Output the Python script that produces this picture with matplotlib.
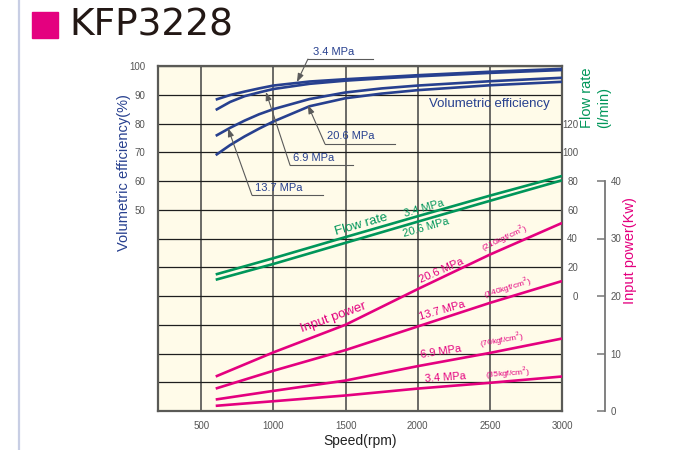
import matplotlib
matplotlib.use("Agg")
import matplotlib.pyplot as plt
from matplotlib import font_manager as fm
from matplotlib.patches import Rectangle
from matplotlib.lines import Line2D

# ---- data -------------------------------------------------------------
speed_vol = [600, 700, 800, 900, 1000, 1250, 1500, 1750, 2000, 2500, 3000]
vol_34 = [88.3, 89.9, 91.1, 92.2, 93.2, 94.6, 95.4, 96.1, 96.8, 98.0, 99.0]
vol_69 = [84.7, 87.5, 89.5, 90.8, 92.0, 93.8, 94.9, 95.7, 96.4, 97.6, 98.6]
vol_137 = [75.7, 78.5, 81.0, 83.2, 85.0, 88.5, 90.8, 92.2, 93.2, 94.7, 95.9]
vol_206 = [69.0, 72.5, 75.5, 78.2, 80.7, 86.0, 88.8, 90.4, 91.6, 93.3, 94.5]

speed_lin = [600, 1000, 1500, 2000, 2500, 3000]
flow_34 = [15.0, 26.3, 41.0, 55.5, 69.8, 83.5]
flow_206 = [11.3, 22.3, 37.0, 51.7, 66.2, 80.5]

power_206 = [6.0, 10.2, 15.0, 21.2, 27.2, 32.7]
power_137 = [3.9, 7.0, 10.6, 14.7, 18.8, 22.6]
power_69 = [2.0, 3.5, 5.3, 7.8, 10.1, 12.6]
power_34 = [0.9, 1.7, 2.7, 3.9, 4.9, 6.0]

speed_ticks = [500, 1000, 1500, 2000, 2500, 3000]
vol_ticks = [50, 60, 70, 80, 90, 100]
flow_ticks = [0, 20, 40, 60, 80, 100, 120]
power_ticks = [0, 10, 20, 30, 40]

# ---- style ------------------------------------------------------------
names = {f.name for f in fm.fontManager.ttflist}
SANS = "Liberation Sans"
NARROW = "Liberation Sans Narrow" if "Liberation Sans Narrow" in names else SANS

BLUE = "#27408f"
GREEN = "#00965a"
MAGENTA = "#e4007f"
CREAM = "#fffbe9"
TICKGRAY = "#555555"
LEADER = "#5a5a5a"
LW = 1.9

fig = plt.figure(figsize=(6.9, 4.5), dpi=100)
fig.patch.set_facecolor("white")

# header
fig.add_artist(Line2D([19 / 690, 19 / 690], [0, 1], color="#c8cee4", lw=1.6))
fig.add_artist(Rectangle((32 / 690, 1 - 38 / 450), 26 / 690, 26 / 450,
                         color=MAGENTA, transform=fig.transFigure))
fig.text(69 / 690, 1 - 26 / 450, "KFP3228", fontsize=27, color="#231815",
         family="DejaVu Sans", va="center", ha="left")

L, R, B, T = 158 / 690, 562 / 690, 1 - 411 / 450, 1 - 66 / 450
ax = fig.add_axes([L, B, R - L, T - B])
ax.set_facecolor(CREAM)
ax.set_xlim(200, 3000)
ax.set_ylim(-20, 100)

# grid
ax.set_xticks(speed_ticks)
ax.set_xticklabels([str(s) for s in speed_ticks], family=NARROW,
                   fontsize=7, color=TICKGRAY)
ax.set_yticks(range(-20, 101, 10))
ax.set_yticklabels([str(v) if v in vol_ticks else "" for v in range(-20, 101, 10)],
                   family=NARROW, fontsize=7, color=TICKGRAY)
ax.tick_params(axis="both", length=0)
ax.tick_params(axis="x", pad=7)
ax.tick_params(axis="y", pad=9)
ax.xaxis.grid(True, color="#6a6a66", lw=1.4)
ax.yaxis.grid(True, color="#1e1e1e", lw=0.9)
ax.set_axisbelow(True)
for side in ["left", "right", "top", "bottom"]:
    ax.spines[side].set_color("#5a5a56")
    ax.spines[side].set_linewidth(1.6)

ax.set_xlabel("Speed(rpm)", family=SANS, fontsize=10, color="#222222", labelpad=2)
ax.set_ylabel("Volumetric efficiency(%)", family=SANS, fontsize=10.5,
              color=BLUE, labelpad=2)
ax.yaxis.set_label_coords((131 - 158) / 404, (411 - 173) / 345)

# volumetric efficiency curves
for vals in (vol_34, vol_69, vol_137, vol_206):
    ax.plot(speed_vol, vals, color=BLUE, lw=LW, solid_capstyle="butt", zorder=3)

ax.text(2494, 86.8, "Volumetric efficiency", family=SANS, fontsize=9.5,
        color=BLUE, ha="center", va="center", zorder=4)

# pressure call-outs: label, underline, leader arrow
callouts = [
    ("3.4 MPa", 1274, 104.9, (1239, 1690), 102.4, (1163, 94.4)),
    ("20.6 MPa", 1371, 75.7, (1357, 1842), 72.9, (1239, 86.4)),
    ("6.9 MPa", 1135, 68.0, (1115, 1551), 65.5, (948, 91.0)),
    ("13.7 MPa", 872, 57.7, (851, 1343), 55.1, (685, 78.4)),
]
for label, tx, ty, (u0, u1), uy, tip in callouts:
    ax.text(tx, ty, label, family=NARROW, fontsize=8, color=BLUE,
            ha="left", va="center", clip_on=False, zorder=5)
    ax.plot([u0, u1], [uy, uy], color=LEADER, lw=0.8, clip_on=False, zorder=4)
    ax.annotate("", xy=tip, xytext=(u0, uy),
                arrowprops=dict(arrowstyle="-|>,head_length=0.5,head_width=0.18",
                                color=LEADER, lw=0.8, shrinkA=0, shrinkB=0),
                annotation_clip=False, zorder=4)

# flow rate axis
axf = ax.twinx()
axf.set_ylim(-80, 160)
axf.set_yticks(flow_ticks)
axf.set_yticklabels([str(v) for v in flow_ticks], family=NARROW, fontsize=7,
                    color=TICKGRAY)
axf.tick_params(axis="y", length=0, pad=11.5)
for lbl in axf.get_yticklabels():
    lbl.set_horizontalalignment("right")
for side in axf.spines:
    axf.spines[side].set_visible(False)
axf.plot(speed_lin, flow_34, color=GREEN, lw=LW, solid_capstyle="butt")
axf.plot(speed_lin, flow_206, color=GREEN, lw=LW, solid_capstyle="butt")
axf.text(1607, 49.4, "Flow rate", family=SANS, fontsize=9.5, color=GREEN,
         rotation=16, ha="center", va="center", rotation_mode="anchor")
axf.text(2043, 61.2, "3.4 MPa", family=NARROW, fontsize=8, color=GREEN,
         rotation=16, ha="center", va="center", rotation_mode="anchor")
axf.text(2057, 47.3, "20.6 MPa", family=NARROW, fontsize=8, color=GREEN,
         rotation=16, ha="center", va="center", rotation_mode="anchor")
fig.text(587 / 690, 1 - 128 / 450, "Flow rate", family=SANS, fontsize=10.5,
         color=GREEN, rotation=90, ha="center", va="bottom")
fig.text(604 / 690, 1 - 128 / 450, "(l/min)", family=SANS, fontsize=10.5,
         color=GREEN, rotation=90, ha="center", va="bottom")

# input power axis
axp = ax.twinx()
axp.set_ylim(0, 60)
for side in ["left", "top", "bottom"]:
    axp.spines[side].set_visible(False)
axp.spines["right"].set_position(("axes", (605 - 158) / 404))
axp.spines["right"].set_bounds(0, 40)
axp.spines["right"].set_color("#777777")
axp.spines["right"].set_linewidth(1.3)
axp.set_yticks(power_ticks)
axp.set_yticklabels([str(v) for v in power_ticks], family=NARROW, fontsize=7,
                    color=TICKGRAY)
axp.tick_params(axis="y", direction="in", length=6, width=1.1, color="#777777",
                pad=4)
axp.set_ylabel("Input power(Kw)", family=SANS, fontsize=10.5, color=MAGENTA,
               labelpad=2)
axp.yaxis.set_label_coords((623 - 158) / 404, (411 - 251) / 345)

for vals in (power_206, power_137, power_69, power_34):
    axp.plot(speed_lin, vals, color=MAGENTA, lw=LW, solid_capstyle="butt")

power_notes = [
    ("Input power", 1413, 16.2, 20, SANS, 9.5),
    ("20.6 MPa", 2168, 24.5, 24, NARROW, 8),
    ("(210kgf/cm$^2$)", 2605, 30.1, 25, NARROW, 6),
    ("13.7 MPa", 2168, 17.4, 16, NARROW, 8),
    ("(140kgf/cm$^2$)", 2626, 21.4, 17, NARROW, 6),
    ("6.9 MPa", 2161, 10.3, 9, NARROW, 8),
    ("(70kgf/cm$^2$)", 2584, 12.3, 10, NARROW, 6),
    ("3.4 MPa", 2189, 5.9, 4, NARROW, 8),
    ("(35kgf/cm$^2$)", 2626, 6.5, 4, NARROW, 6),
]
for txt, x, y, rot, fam, fs in power_notes:
    axp.text(x, y, txt, family=fam, fontsize=fs, color=MAGENTA, rotation=rot,
             ha="center", va="center", rotation_mode="anchor")

fig.savefig("out.png", dpi=100, facecolor="white")
